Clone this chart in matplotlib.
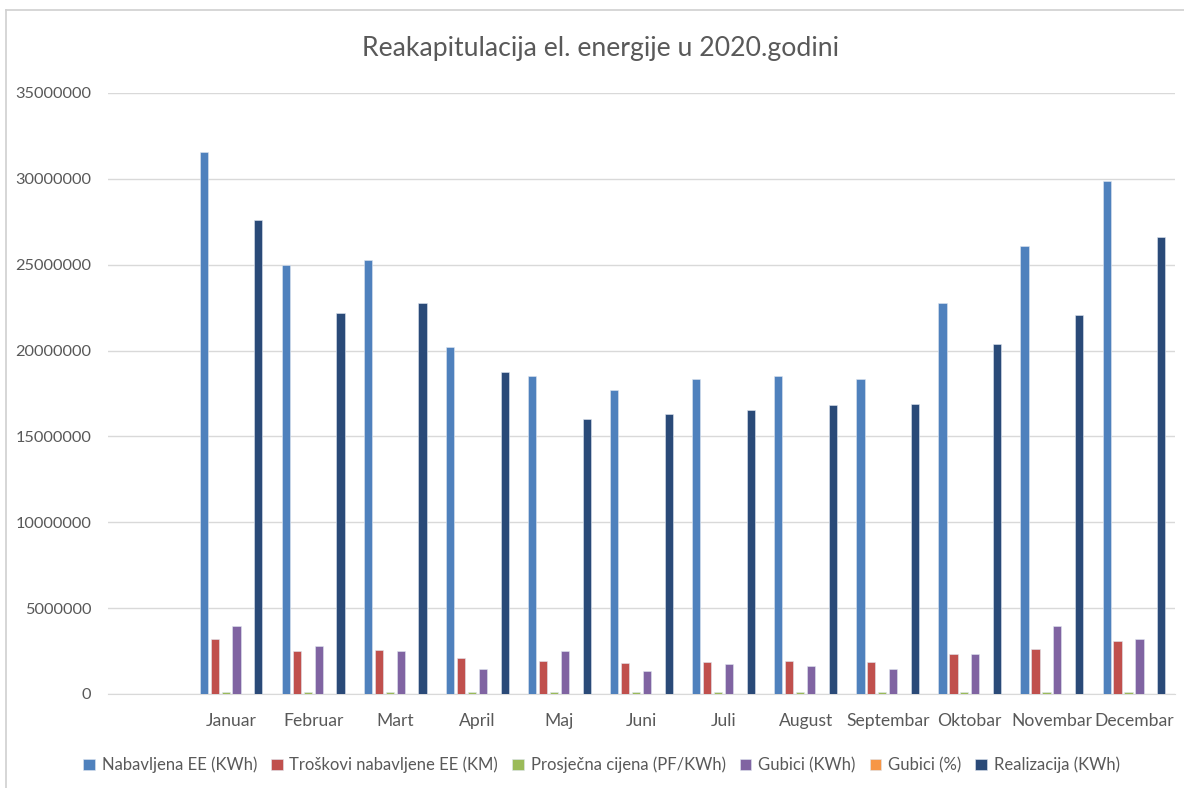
import numpy as np
import matplotlib.pyplot as plt
from matplotlib.lines import Line2D

plt.rcParams['font.family'] = ['Lato', 'DejaVu Sans']

# first slot on the category axis is empty in the original chart
months = ['', 'Januar', 'Februar', 'Mart', 'April', 'Maj', 'Juni', 'Juli',
          'August', 'Septembar', 'Oktobar', 'Novembar', 'Decembar']

nabavljena = [np.nan, 31570000, 24980000, 25290000, 20230000, 18500000, 17700000,
              18330000, 18500000, 18330000, 22750000, 26060000, 29900000]
troskovi = [np.nan, 3200000, 2520000, 2580000, 2090000, 1920000, 1780000,
            1840000, 1920000, 1840000, 2340000, 2630000, 3060000]
cijena = [np.nan, 100000, 100000, 100000, 100000, 100000, 100000,
          100000, 100000, 100000, 100000, 100000, 100000]
gubici = [np.nan, 3940000, 2770000, 2520000, 1440000, 2520000, 1350000,
          1730000, 1610000, 1440000, 2340000, 3940000, 3200000]
gubici_pct = [np.nan, 12, 11, 10, 7, 13, 8, 9, 9, 8, 10, 15, 11]
realizacija = [np.nan, 27600000, 22200000, 22770000, 18780000, 16000000, 16300000,
               16550000, 16840000, 16900000, 20370000, 22080000, 26630000]

series = [
    ('Nabavljena EE (KWh)', nabavljena, '#4F81BD'),
    ('Troškovi nabavljene EE (KM)', troskovi, '#C0504D'),
    ('Prosječna cijena (PF/KWh)', cijena, '#9BBB59'),
    ('Gubici (KWh)', gubici, '#8064A2'),
    ('Gubici (%)', gubici_pct, '#F79646'),
    ('Realizacija (KWh)', realizacija, '#2A4A78'),
]

grey = '#595959'
fig = plt.figure(figsize=(11.84, 7.88), dpi=100)
ax = fig.add_axes([0.0912, 0.1193, 0.9012, 0.7627])

x = np.arange(len(months))
step = 0.133
w = 0.1
for i, (name, vals, col) in enumerate(series):
    ax.bar(x + (i - 2.5) * step, vals, width=w, color=col, label=name,
           edgecolor='#dfe6f0', linewidth=0.4, zorder=3)

ax.set_xlim(-0.5, len(months) - 0.5)
ax.set_ylim(0, 35000000)
ax.set_yticks(np.arange(0, 35000001, 5000000))
ax.yaxis.set_major_formatter(plt.FuncFormatter(lambda v, p: '%d' % v))
ax.set_xticks(x)
ax.set_xticklabels(months)
ax.tick_params(axis='both', length=0, colors=grey)
ax.tick_params(axis='y', pad=12, labelsize=11.8)
ax.tick_params(axis='x', pad=14, labelsize=12.6)
ax.grid(axis='y', color='#d9d9d9', linewidth=1, zorder=0)
for s in ['top', 'right', 'left']:
    ax.spines[s].set_visible(False)
ax.spines['bottom'].set_color('#d9d9d9')

fig.text(0.507, 0.938, 'Reakapitulacija el. energije u 2020.godini',
         ha='center', va='center', fontsize=19.2, color=grey)

leg = fig.legend(loc='center', bbox_to_anchor=(0.508, 0.029), ncol=6,
                 frameon=False, fontsize=12, handlelength=0.7, handleheight=0.7,
                 handletextpad=0.4, columnspacing=0.85)
for t in leg.get_texts():
    t.set_color(grey)

# frame edge of the original chart area
fig.add_artist(Line2D([0.005, 0.005], [0, 0.987], color='#d0d0d0', lw=1.2))
fig.add_artist(Line2D([0.005, 1], [0.987, 0.987], color='#d0d0d0', lw=1.2))

fig.savefig('out.png')
